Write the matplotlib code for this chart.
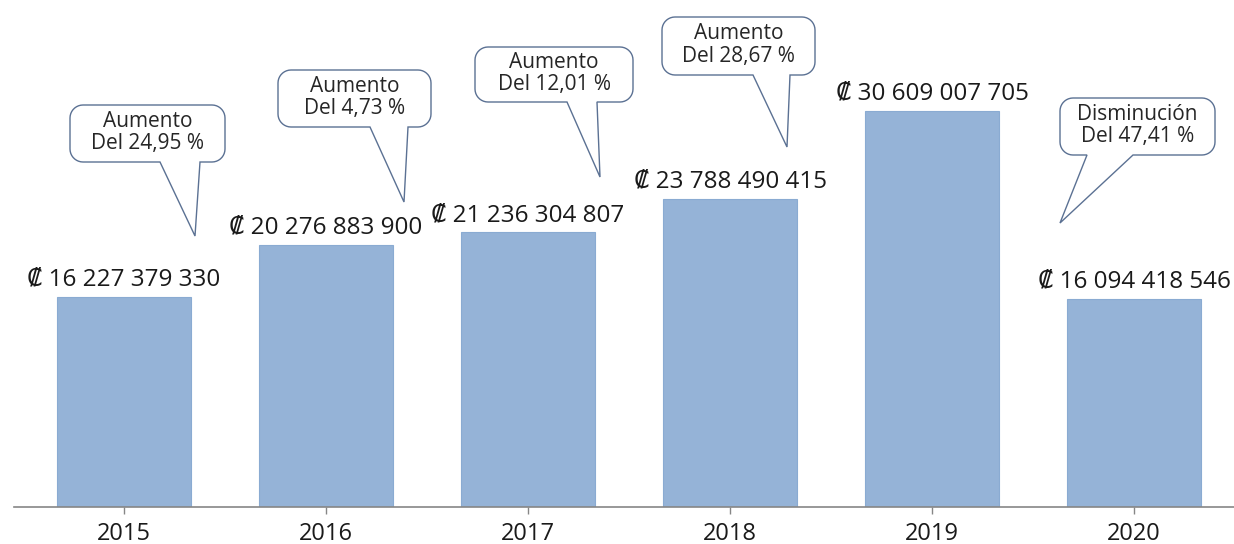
import numpy as np
import matplotlib
matplotlib.use("Agg")
import matplotlib.pyplot as plt
from matplotlib.path import Path
from matplotlib.patches import PathPatch
from matplotlib.transforms import Affine2D

years = ["2015", "2016", "2017", "2018", "2019", "2020"]
values = [16227379330, 20276883900, 21236304807, 23788490415, 30609007705, 16094418546]
value_labels = ["₡ 16 227 379 330", "₡ 20 276 883 900", "₡ 21 236 304 807",
                "₡ 23 788 490 415", "₡ 30 609 007 705", "₡ 16 094 418 546"]
callout_texts = ["Aumento\nDel 24,95 %", "Aumento\nDel 4,73 %", "Aumento\nDel 12,01 %",
                 "Aumento\nDel 28,67 %", "Disminución\nDel 47,41 %"]

FONT = ["Open Sans", "DejaVu Sans"]
W, H = 1234, 544
fig = plt.figure(figsize=(W / 100, H / 100), dpi=100)
ax = fig.add_axes([14 / W, 37 / H, (W - 14) / W, 453 / H])

x = np.arange(len(years))
bar_color = "#95B3D7"
ax.bar(x, values, width=0.665, color=bar_color, edgecolor="#8AABD2", linewidth=0.8, zorder=2)
ax.set_xlim(-0.545, 5.495)
ax.set_ylim(0, 35e9)
for s in ["top", "right", "left"]:
    ax.spines[s].set_visible(False)
ax.spines["bottom"].set_color("#868686")
ax.spines["bottom"].set_linewidth(1.2)
ax.set_yticks([])
ax.set_xticks(x)
ax.set_xticklabels(years, fontsize=17, color="#1a1a1a", family=FONT)
ax.tick_params(axis="x", length=5, width=1, color="#868686", pad=6)

# value labels above bars
for xi, v, lab in zip(x, values, value_labels):
    ax.annotate(lab, (xi, v), xytext=(0, 8), textcoords="offset points",
                ha="center", va="baseline", fontsize=17.5, color="#1a1a1a",
                family=FONT)

# callout bubbles in pixel coordinates (origin top-left)
pix = Affine2D().scale(1, -1).translate(0, H) + Affine2D().scale(1.0 / W, 1.0 / H) + fig.transFigure


def bubble(x0, y0, x1, y1, tb0, tb1, tip, r=13):
    pts = []

    def arc(cx, cy, a0, a1):
        for a in np.linspace(a0, a1, 10):
            pts.append((cx + r * np.cos(a), cy + r * np.sin(a)))
    arc(x0 + r, y0 + r, np.pi, 1.5 * np.pi)
    arc(x1 - r, y0 + r, 1.5 * np.pi, 2 * np.pi)
    arc(x1 - r, y1 - r, 0, 0.5 * np.pi)
    pts.append((tb1, y1))
    pts.append(tip)
    pts.append((tb0, y1))
    arc(x0 + r, y1 - r, 0.5 * np.pi, np.pi)
    pts.append(pts[0])
    path = Path(pts, closed=True)
    patch = PathPatch(path, facecolor="white", edgecolor="#5B7193", linewidth=1.0,
                      transform=pix, zorder=5)
    fig.add_artist(patch)


boxes = [
    (70, 105, 225, 162, 160, 200, (195, 236)),
    (278, 70, 431, 127, 370, 408, (404, 202)),
    (475, 47, 633, 102, 567, 597, (600, 177)),
    (662, 17, 815, 75, 753, 790, (787, 147)),
    (1060, 98, 1215, 155, 1087, 1133, (1060, 223)),
]
for (x0, y0, x1, y1, t0, t1, tip), txt in zip(boxes, callout_texts):
    bubble(x0, y0, x1, y1, t0, t1, tip)
    fig.text((x0 + x1) / 2 / W, 1 - ((y0 + y1) / 2 - 1) / H, txt, ha="center", va="center",
             fontsize=15, color="#262626", linespacing=1.12, zorder=6,
             family=FONT)

fig.savefig("out.png", dpi=100, facecolor="white")
